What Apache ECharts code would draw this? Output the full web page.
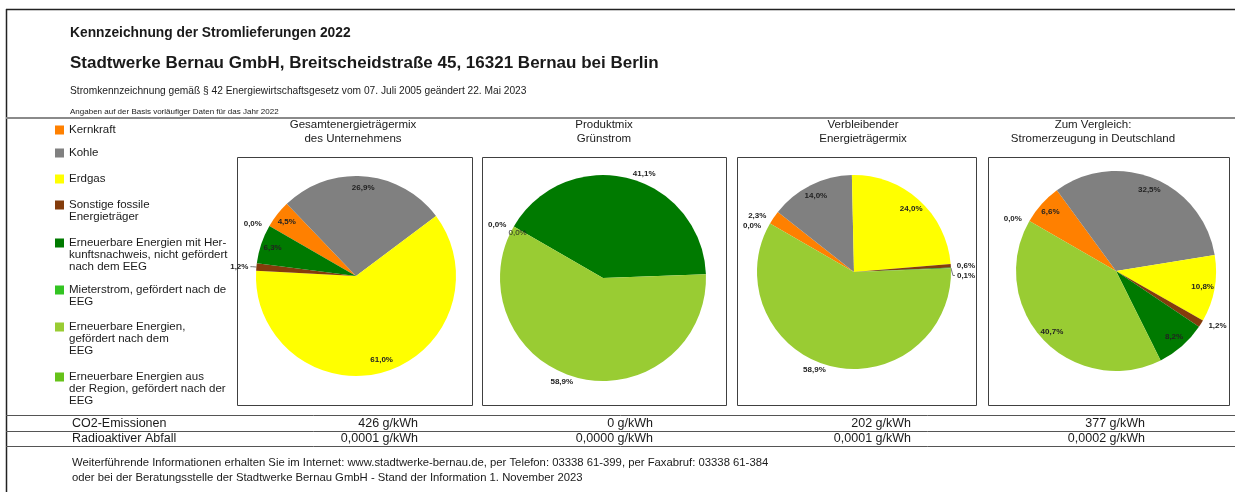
<!DOCTYPE html>
<html>
<head>
<meta charset="utf-8">
<title>Kennzeichnung der Stromlieferungen 2022</title>
<script src="https://cdn.jsdelivr.net/npm/echarts@6/dist/echarts.min.js"></script>
<style>
  html, body { margin: 0; padding: 0; background: #fff; }
  #chart { width: 1235px; height: 492px; }
</style>
</head>
<body>
<div id="chart"></div>
<script>
// Energieträger (Legende)
const categories = [
  "Kernkraft",
  "Kohle",
  "Erdgas",
  "Sonstige fossile\nEnergieträger",
  "Erneuerbare Energien mit Her-\nkunftsnachweis, nicht gefördert\nnach dem EEG",
  "Mieterstrom, gefördert nach de\nEEG",
  "Erneuerbare Energien,\ngefördert nach dem\nEEG",
  "Erneuerbare Energien aus\nder Region, gefördert nach der\nEEG"
]
const colors = ["#FF8000", "#808080", "#FFFF00", "#843C0C", "#007A00", "#33C422", "#99CC33", "#66C219"]

// Anteile in Prozent
const mixUnternehmen = [4.5, 26.9, 61.0, 1.2, 6.3, 0.0, 0.0, 0.0]
const mixGruenstrom = [0.0, 0.0, 0.0, 0.0, 41.1, 0.0, 58.9, 0.0]
const mixVerbleibend = [2.3, 14.0, 24.0, 0.6, 0.1, 0.0, 58.9, 0.0]
const mixDeutschland = [6.6, 32.5, 10.8, 1.2, 8.2, 0.0, 40.7, 0.0]

const pieTitles = [
  ["Gesamtenergieträgermix", "des Unternehmens"],
  ["Produktmix", "Grünstrom"],
  ["Verbleibender", "Energieträgermix"],
  ["Zum Vergleich:", "Stromerzeugung in Deutschland"]
]

// Umweltauswirkungen (g/kWh)
const co2 = [426, 0, 202, 377]
const radioaktiv = [0.0001, 0.0000, 0.0001, 0.0002]

const FONT = '"Liberation Sans", Arial, sans-serif'

// Lage der vier Kreise, Rahmen und Beschriftungsart je Segment
// in = innen, inn = innen normal, out = außen, outl = außen mit Linie, "" = keine
const pies = [
  { data: mixUnternehmen, cx: 356, cy: 276, r: 100, titleX: 353, box: [237, 472], valueX: 418,
    labels: ["in", "in", "in", "outl", "in", "", "", "out"] },
  { data: mixGruenstrom, cx: 603, cy: 278, r: 103, titleX: 604, box: [482, 726], valueX: 653,
    labels: ["out", "inn", "", "", "out", "", "out", ""] },
  { data: mixVerbleibend, cx: 854, cy: 272, r: 97, titleX: 863, box: [737, 976], valueX: 911,
    labels: ["out", "in", "in", "out", "outl", "", "out", "out"] },
  { data: mixDeutschland, cx: 1116, cy: 271, r: 100, titleX: 1093, box: [988, 1229], valueX: 1145,
    labels: ["in", "in", "in", "out", "in", "", "in", "out"] }
]
const legendFirstLine = [130, 153, 179, 205, 243, 290, 327, 377]

const pct = v => v.toFixed(1).replace(".", ",") + "%"
const gkwh = (v, d) => v.toFixed(d).replace(".", ",") + " g/kWh"

const text = (x, y, str, size, opts = {}) => ({
  type: "text",
  silent: true,
  style: {
    x, y, text: str,
    font: (opts.bold ? "bold " : "") + size + "px " + FONT,
    fill: opts.color || "#1a1a1a",
    align: opts.align || "left",
    verticalAlign: "middle"
  }
})
const hline = (y, x1, x2, color, w) => ({
  type: "line", silent: true,
  shape: { x1, y1: y, x2, y2: y },
  style: { stroke: color, lineWidth: w }
})

const chart = echarts.init(document.getElementById("chart"), null, { renderer: "canvas" })

// Kreisdiagramme: Fläche + transparenter Ring nur für die Prozentwerte
const series = []
pies.forEach(p => {
  const base = {
    type: "pie",
    left: 0, top: 0, width: 1320, height: 492,
    center: [p.cx, p.cy],
    startAngle: 150,
    clockwise: true,
    silent: true,
    animation: false
  }
  series.push({
    ...base,
    radius: p.r,
    label: { show: false },
    labelLine: { show: false },
    itemStyle: { borderWidth: 0 },
    data: categories.map((name, i) => ({ name, value: p.data[i], itemStyle: { color: colors[i] } }))
  })
  series.push({
    ...base,
    radius: [p.r * 0.7, p.r],
    avoidLabelOverlap: true,
    itemStyle: { color: "rgba(0,0,0,0)", borderWidth: 0 },
    label: {
      fontFamily: FONT, fontSize: 8, fontWeight: "bold", color: "#222",
      distanceToLabelLine: 2,
      bleedMargin: 0,
      formatter: d => pct(d.value)
    },
    labelLine: { length: 4, length2: 2, lineStyle: { color: "#555", width: 0.8 } },
    data: categories.map((name, i) => {
      const mode = p.labels[i]
      const inside = mode === "in" || mode === "inn"
      return {
        name,
        value: p.data[i],
        label: {
          show: mode !== "",
          position: inside ? "inside" : "outside",
          fontWeight: mode === "inn" ? "normal" : "bold",
          padding: mode === "inn" ? [8, 14, 0, 0] : 0
        },
        labelLine: { show: mode === "outl" }
      }
    })
  })
})

// Legende links, Quadrat auf Höhe der ersten Zeile
const legend = categories.map((name, i) => {
  const h = 12 * name.split("\n").length
  return {
    left: 55,
    top: legendFirstLine[i] - 6,
    orient: "vertical",
    padding: 0,
    selectedMode: false,
    itemWidth: 9,
    itemHeight: h,
    icon: "path://M0,0h0.01v0.01h-0.01z M0,1.5h9v9h-9z M0," + (h - 0.01) + "h0.01v0.01h-0.01z",
    textStyle: { fontFamily: FONT, fontSize: 11.5, color: "#1a1a1a", lineHeight: 12 },
    data: [{ name, itemStyle: { color: colors[i] } }]
  }
})

const elements = [
  hline(9.5, 6, 1235, "#222", 1.5),
  { type: "line", silent: true, shape: { x1: 6.5, y1: 9, x2: 6.5, y2: 492 }, style: { stroke: "#222", lineWidth: 1.5 } },
  hline(118, 6, 1235, "#8a8a8a", 2),
  hline(415.5, 6, 1235, "#555", 1),
  hline(431.5, 6, 1235, "#555", 1),
  hline(446.5, 6, 1235, "#555", 1),
  text(70, 33, "Kennzeichnung der Stromlieferungen 2022", 13.8, { bold: true }),
  text(70, 63, "Stadtwerke Bernau GmbH, Breitscheidstraße 45, 16321 Bernau bei Berlin", 17, { bold: true }),
  text(70, 91, "Stromkennzeichnung gemäß § 42 Energiewirtschaftsgesetz vom 07. Juli 2005 geändert 22. Mai 2023", 10.2),
  text(70, 112, "Angaben auf der Basis vorläufiger Daten für das Jahr 2022", 8),
  text(72, 424, "CO2-Emissionen", 12.5),
  text(72, 439, "Radioaktiver Abfall", 12.5),
  text(72, 463, "Weiterführende Informationen erhalten Sie im Internet: www.stadtwerke-bernau.de, per Telefon: 03338 61-399, per Faxabruf: 03338 61-384", 11.3),
  text(72, 478, "oder bei der Beratungsstelle der Stadtwerke Bernau GmbH - Stand der Information 1. November 2023", 11.3)
]
pies.forEach((p, k) => {
  elements.push({
    type: "rect", silent: true,
    shape: { x: p.box[0] + 0.5, y: 157.5, width: p.box[1] - p.box[0], height: 248 },
    style: { fill: "none", stroke: "#404040", lineWidth: 1 }
  })
  elements.push(text(p.titleX, 125, pieTitles[k][0], 11.5, { align: "center" }))
  elements.push(text(p.titleX, 139, pieTitles[k][1], 11.5, { align: "center" }))
  elements.push(text(p.valueX, 424, gkwh(co2[k], 0), 12.5, { align: "right" }))
  elements.push(text(p.valueX, 439, gkwh(radioaktiv[k], 4), 12.5, { align: "right" }))
})

chart.setOption({
  animation: false,
  backgroundColor: "#fff",
  legend,
  series,
  graphic: { elements }
})
</script>
</body>
</html>
